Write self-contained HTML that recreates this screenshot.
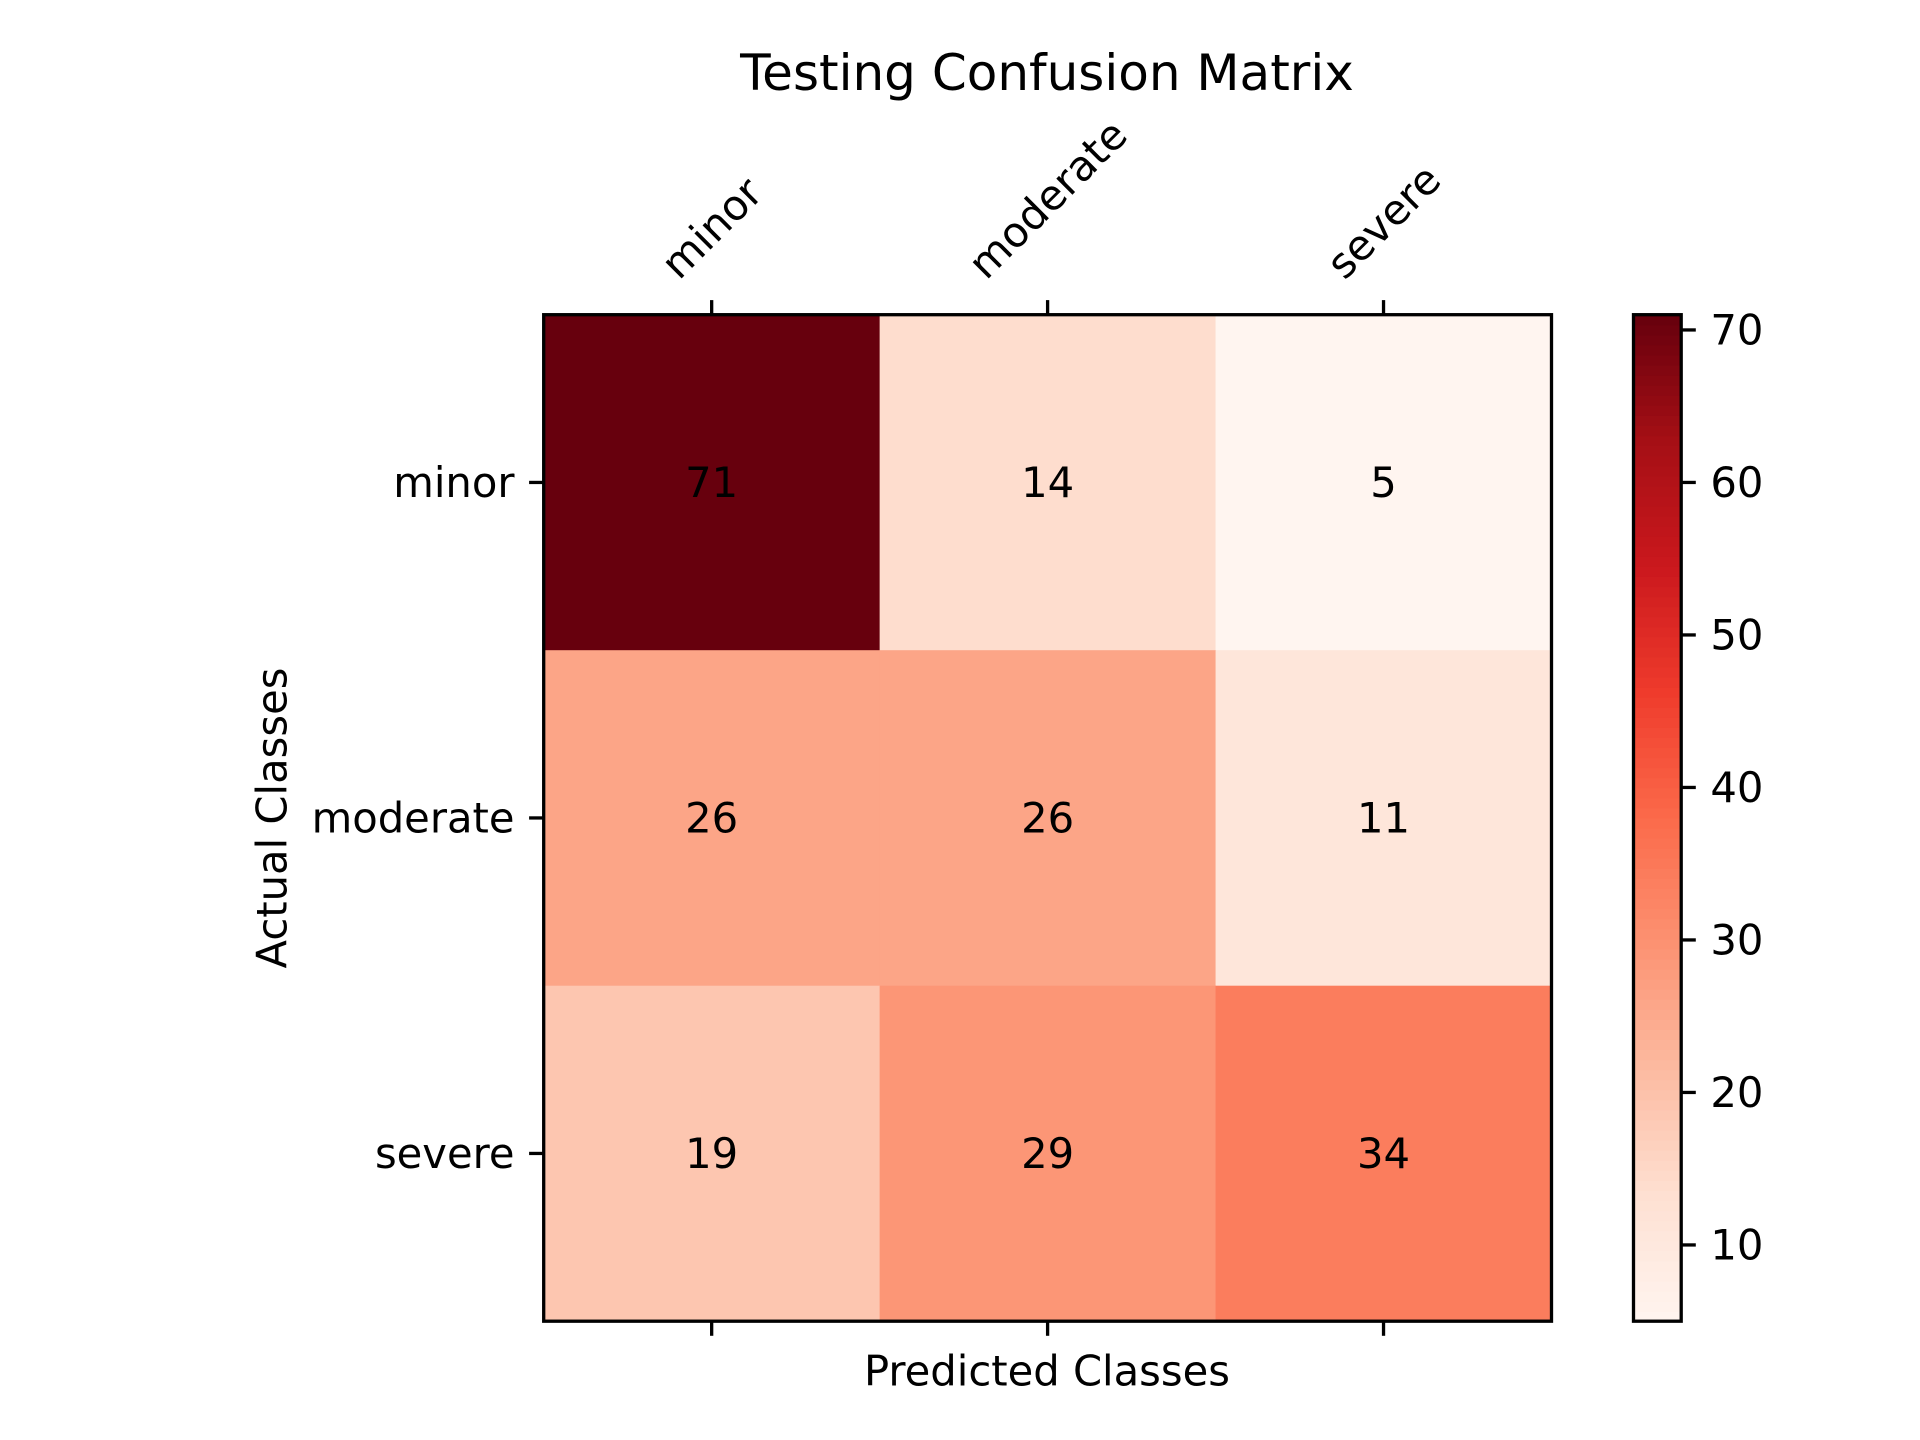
<!DOCTYPE html>
<html><head><meta charset="utf-8"><style>
html,body{margin:0;padding:0;background:#fff;}
svg{display:block;font-family:"DejaVu Sans","Liberation Sans",sans-serif;}
</style></head><body>
<svg id="chart" width="1920" height="1440" viewBox="0 0 1920 1440" xmlns="http://www.w3.org/2000/svg">
<rect width="1920" height="1440" fill="#fff"/>
<text x="1047" y="73" font-size="50" text-anchor="middle" dominant-baseline="central">Testing Confusion Matrix</text>
<text x="1047" y="1371" font-size="41.7" text-anchor="middle" dominant-baseline="central">Predicted Classes</text>
<text transform="translate(272,818) rotate(-90)" font-size="41.7" text-anchor="middle" dominant-baseline="central">Actual Classes</text>
<g id="cells"></g>
<g id="axes"></g>
<g id="cbar"></g>
</svg>
<script>
const classes = ["minor","moderate","severe"];
const matrix = [[71,14,5],[26,26,11],[19,29,34]];
const cbarTicks = [10,20,30,40,50,60,70];
const vmin = 5, vmax = 71;

const NS="http://www.w3.org/2000/svg";
const L=543.7,R=1551.5,T=314.7,B=1321.2;
const cw=(R-L)/classes.length, ch=(B-T)/classes.length;
const stops=["#fff5f0","#fee0d2","#fcbba1","#fc9272","#fb6a4a","#ef3b2c","#cb181d","#a50f15","#67000d"];
function hex(h){return [1,3,5].map(i=>parseInt(h.substr(i,2),16));}
function cmap(v){let t=(v-vmin)/(vmax-vmin);t=Math.max(0,Math.min(1,t));const p=t*(stops.length-1);const i=Math.min(Math.floor(p),stops.length-2);const f=p-i;const a=hex(stops[i]),b=hex(stops[i+1]);return "rgb("+a.map((x,k)=>Math.round(x+(b[k]-x)*f)).join(",")+")";}
function el(tag,attrs,parent){const e=document.createElementNS(NS,tag);for(const k in attrs)e.setAttribute(k,attrs[k]);parent.appendChild(e);return e;}
const xPos=j=>L+cw*(j+0.5), yPos=i=>T+ch*(i+0.5);
const cells=document.getElementById("cells"),axes=document.getElementById("axes"),cb=document.getElementById("cbar");
matrix.forEach((row,i)=>row.forEach((v,j)=>{
  const r=el("rect",{x:L+cw*j,y:T+ch*i,width:cw+0.5,height:ch+0.5,fill:cmap(v)},cells);
  
  
  const t=el("text",{x:xPos(j),y:yPos(i),"font-size":41.7,"text-anchor":"middle","dominant-baseline":"central"},cells);
  t.textContent=v;
  
  
}));
const frame=el("rect",{x:L,y:T,width:R-L,height:B-T,fill:"none",stroke:"#000","stroke-width":3.3},axes);


classes.forEach((c,k)=>{
  const x=xPos(k),y=yPos(k);
  el("line",{x1:x,y1:T,x2:x,y2:T-14.6,stroke:"#000","stroke-width":3.3},axes);
  el("line",{x1:x,y1:B,x2:x,y2:B+14.6,stroke:"#000","stroke-width":3.3},axes);
  el("line",{x1:L,y1:y,x2:L-14.6,y2:y,stroke:"#000","stroke-width":3.3},axes);
  const yl=el("text",{x:L-29.2,y:y,"font-size":41.7,"text-anchor":"end","dominant-baseline":"central"},axes);
  yl.textContent=c;
  
  
  const xl=el("text",{x:0,y:0,"font-size":41.7,"text-anchor":"middle","dominant-baseline":"central"},axes);
  xl.textContent=c;
  
  
  const w=xl.getComputedTextLength(),h=41.7;
  const half=(w+h)/(2*Math.SQRT2);
  const cy=T-29.2-half;
  xl.setAttribute("transform","translate("+x+","+cy+") rotate(-45)");
});
const CL=1633.5,CR=1681.2;
const cbY=v=>B-(v-vmin)/(vmax-vmin)*(B-T);
const N=100;
for(let k=0;k<N;k++){
  const v0=vmin+(vmax-vmin)*k/N,v1=vmin+(vmax-vmin)*(k+1)/N;
  el("rect",{x:CL,y:cbY(v1),width:CR-CL,height:cbY(v0)-cbY(v1)+0.6,fill:cmap((v0+v1)/2)},cb);
}
const cf=el("rect",{x:CL,y:T,width:CR-CL,height:B-T,fill:"none",stroke:"#000","stroke-width":3.3},cb);


cbarTicks.forEach(v=>{
  const y=cbY(v);
  el("line",{x1:CR,y1:y,x2:CR+14.6,y2:y,stroke:"#000","stroke-width":3.3},cb);
  const t=el("text",{x:CR+29.2,y:y,"font-size":41.7,"dominant-baseline":"central"},cb);
  t.textContent=v;
  
  
});
</script>
</body></html>
